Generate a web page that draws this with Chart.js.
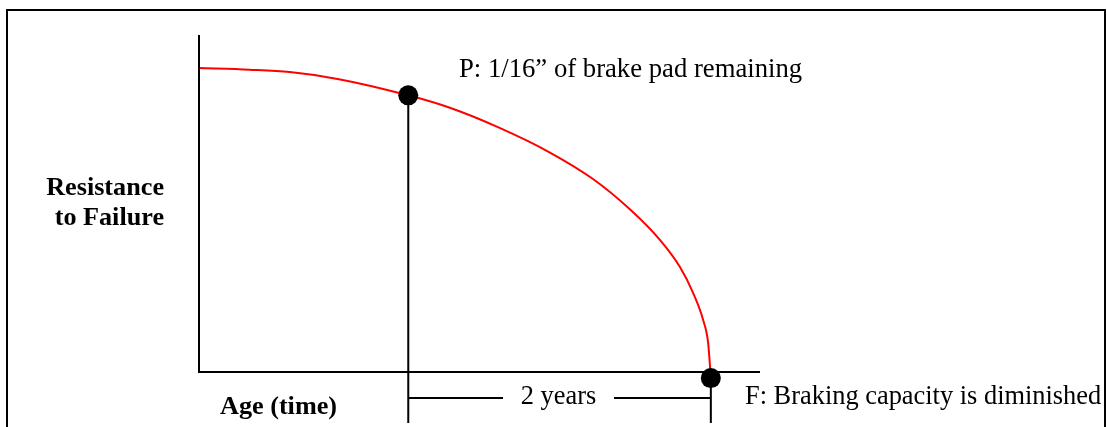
<!DOCTYPE html>
<html>
<head>
<meta charset="utf-8">
<script src="https://cdn.jsdelivr.net/npm/chart.js@4"></script>
<style>
  html, body { margin: 0; padding: 0; background: #ffffff; }
  #wrap { width: 1107px; height: 427px; position: relative; }
  canvas { display: block; }
</style>
</head>
<body>
<div id="wrap"><canvas id="c" width="1107" height="427"></canvas></div>
<script>
// ---- data (time in months, resistance in arbitrary units 0-100) ----
const months     = [0, 4, 7.2, 11.1, 16.6, 19.9, 23.8, 27.8, 31.2, 34.2, 36.56, 38.14, 39.2, 39.99, 40.39, 40.6];
const resistance = [90.2, 89.7, 89.0, 86.9, 82.1, 78.4, 72.5, 65.2, 57.4, 48.2, 39.2, 31.2, 23.4, 15.4, 8.5, -1.8];
const markerNames  = ["P", "F"];
const markerMonths = [16.6, 40.6];
const markerValues = [82.1, -1.8];
const intervalLabel = "2 years";
const labelP = "P: 1/16\u201D of brake pad remaining";
const labelF = "F: Braking capacity is diminished";
const yTitle = ["Resistance", "to Failure"];
const xTitle = "Age (time)";

const curve = months.map((m, i) => ({ x: m, y: resistance[i] }));
const markers = markerMonths.map((m, i) => ({ x: m, y: markerValues[i] }));

const overlay = {
  id: 'overlay',
  afterDraw(chart) {
    const ctx = chart.ctx;
    const xs = chart.scales.x, ys = chart.scales.y;
    const a = chart.chartArea;
    ctx.save();
    ctx.strokeStyle = '#000';
    ctx.lineCap = 'butt';
    // frame
    ctx.lineWidth = 2;
    ctx.beginPath();
    ctx.moveTo(7, 430); ctx.lineTo(7, 10); ctx.lineTo(1105, 10); ctx.lineTo(1105, 430);
    ctx.stroke();
    // axes
    ctx.beginPath();
    ctx.moveTo(a.left, a.top); ctx.lineTo(a.left, a.bottom); ctx.lineTo(a.right, a.bottom);
    ctx.stroke();
    // verticals from markers
    const px = xs.getPixelForValue(markerMonths[0]);
    const py = ys.getPixelForValue(markerValues[0]);
    const fx = xs.getPixelForValue(markerMonths[1]);
    const fy = ys.getPixelForValue(markerValues[1]);
    ctx.beginPath();
    ctx.moveTo(px, py); ctx.lineTo(px, 423);
    ctx.moveTo(fx, fy); ctx.lineTo(fx, 423);
    ctx.stroke();
    // interval line
    const iy = 398;
    ctx.beginPath();
    ctx.moveTo(px, iy); ctx.lineTo(503, iy);
    ctx.moveTo(614, iy); ctx.lineTo(fx, iy);
    ctx.stroke();
    // texts
    ctx.fillStyle = '#000';
    ctx.textBaseline = 'alphabetic';
    ctx.font = '26.7px "Liberation Serif", "Times New Roman", serif';
    ctx.textAlign = 'left';
    ctx.fillText(labelP, 459, 77);
    ctx.font = '26.4px "Liberation Serif", "Times New Roman", serif';
    ctx.fillText(labelF, 745, 404);
    ctx.textAlign = 'center';
    ctx.fillText(intervalLabel, (503 + 614) / 2, 404);
    ctx.font = 'bold 26.2px "Liberation Serif", "Times New Roman", serif';
    ctx.textAlign = 'right';
    ctx.fillText(yTitle[0], 164, 195);
    ctx.fillText(yTitle[1], 164, 225);
    ctx.textAlign = 'left';
    ctx.fillText(xTitle, 220, 414);
    ctx.restore();
  }
};

new Chart(document.getElementById('c'), {
  type: 'scatter',
  data: {
    datasets: [
      {
        label: 'markers',
        data: markers,
        showLine: false,
        pointRadius: 10,
        pointHoverRadius: 10,
        pointBackgroundColor: '#000',
        pointBorderColor: '#000',
        pointBorderWidth: 0,
        clip: false,
        order: 0
      },
      {
        label: 'curve',
        data: curve,
        showLine: true,
        borderColor: '#ff0000',
        borderWidth: 2,
        pointRadius: 0,
        cubicInterpolationMode: 'monotone',
        fill: false,
        clip: false,
        order: 1
      }
    ]
  },
  options: {
    responsive: false,
    animation: false,
    events: [],
    layout: { padding: { left: 199, top: 35, right: 347, bottom: 55 } },
    plugins: { legend: { display: false }, tooltip: { enabled: false } },
    scales: {
      x: { type: 'linear', min: 0, max: 44.5, display: false },
      y: { type: 'linear', min: 0, max: 100, display: false }
    }
  },
  plugins: [overlay]
});
</script>
</body>
</html>
